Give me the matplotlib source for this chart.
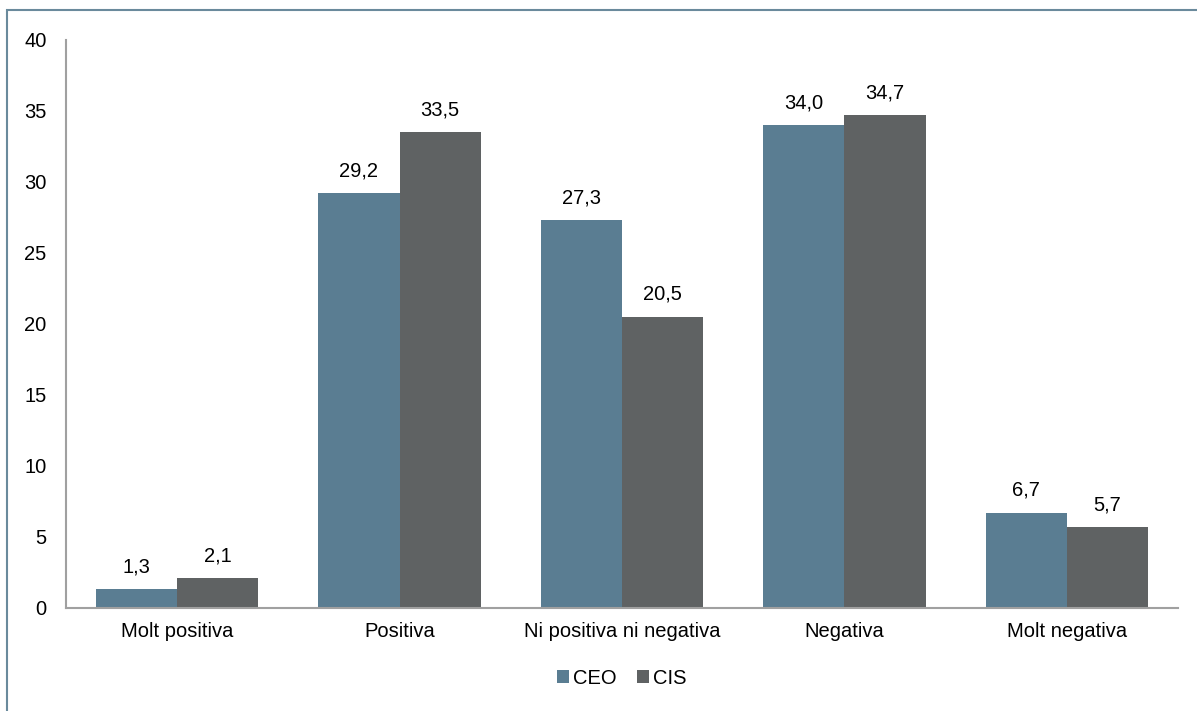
import matplotlib.pyplot as plt
import numpy as np
from matplotlib.patches import Rectangle

plt.rcParams['font.family'] = ['Liberation Sans', 'DejaVu Sans']

categorias = ["Molt positiva", "Positiva", "Ni positiva ni negativa", "Negativa", "Molt negativa"]
ceo = [1.3, 29.2, 27.3, 34.0, 6.7]
cis = [2.1, 33.5, 20.5, 34.7, 5.7]

color_ceo = "#5a7d92"
color_cis = "#5f6263"

fig = plt.figure(figsize=(11.97, 7.11), dpi=100)
ax = fig.add_axes([0.0551, 0.145, 0.929, 0.799])

# marco exterior (solo se ven los lados izquierdo y superior)
fig.patches.append(Rectangle((0.006, -0.05), 1.1, 1.036, transform=fig.transFigure,
                             fill=False, edgecolor="#6a8a9c", linewidth=1.5))

x = np.arange(len(categorias))
w = 0.365
b1 = ax.bar(x - w / 2, ceo, w, color=color_ceo, label="CEO")
b2 = ax.bar(x + w / 2, cis, w, color=color_cis, label="CIS")

for barras, vals in ((b1, ceo), (b2, cis)):
    for r, v in zip(barras, vals):
        ax.text(r.get_x() + r.get_width() / 2, v + 0.9, f"{v:.1f}".replace(".", ","),
                ha="center", va="bottom", fontsize=14.5)

ax.set_xlim(-0.5, 4.5)
ax.set_ylim(0, 40)
ax.set_yticks(range(0, 41, 5))
ax.set_xticks(x)
ax.set_xticklabels(categorias)
ax.tick_params(axis="both", length=0, labelsize=14.5)
ax.tick_params(axis="y", pad=14)
ax.tick_params(axis="x", pad=10)

for s in ("top", "right"):
    ax.spines[s].set_visible(False)
for s in ("left", "bottom"):
    ax.spines[s].set_color("#a0a0a0")
    ax.spines[s].set_linewidth(1.5)

ax.legend(loc="upper center", bbox_to_anchor=(0.5, -0.075), ncol=2, frameon=False,
          fontsize=14.5, handlelength=0.6, handleheight=0.6, handletextpad=0.2,
          columnspacing=1.0)

fig.savefig("out.png", dpi=100)
